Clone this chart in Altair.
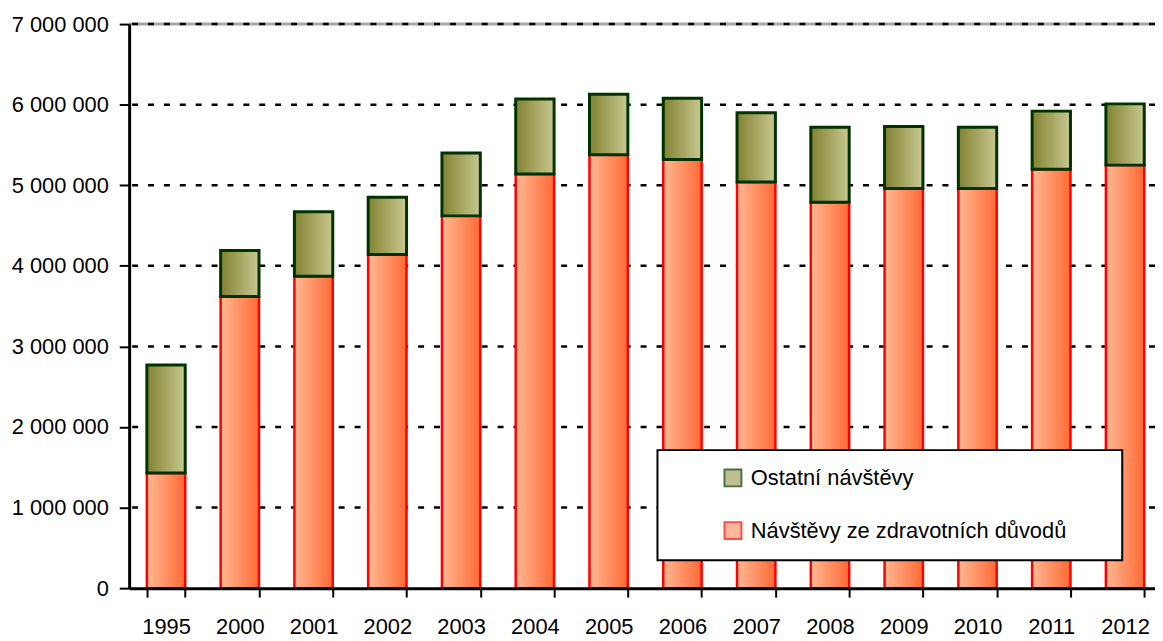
import altair as alt
import pandas as pd

# ---- data ----
years = ["1995", "2000", "2001", "2002", "2003", "2004", "2005",
         "2006", "2007", "2008", "2009", "2010", "2011", "2012"]
health_visits = [1430000, 3620000, 3870000, 4140000, 4620000, 5140000, 5380000,
                 5320000, 5040000, 4790000, 4960000, 4960000, 5200000, 5250000]
other_visits = [1340000, 570000, 800000, 710000, 780000, 930000, 750000,
                760000, 860000, 930000, 770000, 760000, 720000, 760000]
series_names = ["Ostatní návštěvy", "Návštěvy ze zdravotních důvodů"]
y_ticks = [0, 1000000, 2000000, 3000000, 4000000, 5000000, 6000000, 7000000]
grid_values = [1000000, 2000000, 3000000, 4000000, 5000000, 6000000, 7000000]
top_value = [7000000]

FONT = "Liberation Sans, Arial, sans-serif"
FS = 22

df = pd.DataFrame({"year": years, "health": health_visits, "other": other_visits})
grid_df = pd.DataFrame({"v": grid_values})
top_df = pd.DataFrame({"v": top_value})
legend_df = pd.DataFrame({"series": series_names})

x_enc = alt.X(
    "year:O", sort=years,
    scale=alt.Scale(range=[0, 1040], paddingInner=0.48, paddingOuter=0.24),
    axis=alt.Axis(title=None, labelAngle=0, tickBand="extent", tickSize=9, tickWidth=2,
                  tickColor="black", domainColor="black", domainWidth=3,
                  labelPadding=20, labelFontSize=FS, labelFont=FONT, labelColor="black",
                  grid=False, zindex=1),
)
y_scale = alt.Scale(domain=[0, 7000000], nice=False, zero=True)
y_axis = alt.Axis(title=None, values=y_ticks,
                  labelExpr="replace(replace(format(datum.value, ','), ',', ' '), ',', ' ')",
                  tickSize=10, tickWidth=2, tickColor="black", domainColor="black",
                  domainWidth=3, labelPadding=11, labelFontSize=FS, labelFont=FONT,
                  labelColor="black", grid=False, zindex=1)

orange_grad = alt.LinearGradient(
    gradient="linear", x1=0, x2=1, y1=0, y2=0,
    stops=[alt.GradientStop(color="#FFB893", offset=0),
           alt.GradientStop(color="#FF6A35", offset=1)])
olive_grad = alt.LinearGradient(
    gradient="linear", x1=0, x2=1, y1=0, y2=0,
    stops=[alt.GradientStop(color="#828232", offset=0),
           alt.GradientStop(color="#C8C891", offset=1)])

top_line = alt.Chart(top_df).mark_rule(color="#a8a8a8", strokeWidth=3).encode(
    y=alt.Y("v:Q", scale=y_scale, axis=y_axis))
grid = alt.Chart(grid_df).mark_rule(color="black", strokeWidth=2.5, strokeDash=[6, 10]).encode(
    y=alt.Y("v:Q", scale=y_scale))

health_bars = alt.Chart(df).mark_bar(fill=orange_grad, stroke="#FF0000", strokeWidth=2.5).encode(
    x=x_enc,
    y=alt.Y("health:Q", scale=y_scale),
)
other_bars = alt.Chart(df).transform_calculate(
    total="datum.health + datum.other"
).mark_bar(fill=olive_grad, stroke="#003300", strokeWidth=3).encode(
    x=x_enc,
    y=alt.Y("health:Q", scale=y_scale),
    y2="total:Q",
)

leg = alt.Legend(title=".", titleColor="white", titleOrient="right", titlePadding=36,
                 titleFontSize=8, orient="none", legendX=532, legendY=429, direction="vertical",
                 symbolType="square", symbolSize=289, symbolStrokeWidth=2, symbolOffset=48,
                 labelFontSize=FS, labelFont=FONT, labelColor="black", labelOffset=7,
                 rowPadding=27, padding=17, strokeColor="black", fillColor="white",
                 labelLimit=0)
legend_layer = alt.Chart(legend_df).mark_square(size=0, strokeWidth=0).encode(
    fill=alt.Fill("series:N", scale=alt.Scale(domain=series_names, range=["#A5A562", "#FF9C6E"]),
                  legend=leg),
    stroke=alt.Stroke("series:N", scale=alt.Scale(domain=series_names, range=["#003300", "#FF0000"]),
                      legend=leg),
)

chart = alt.layer(top_line, grid, health_bars, other_bars, legend_layer).properties(
    width=1033, height=568,
    autosize=alt.AutoSizeParams(type="none"),
    padding={"left": 122, "top": 14, "right": 0, "bottom": 52},
).configure_view(strokeWidth=0).configure_legend(strokeWidth=2)

chart.save("out.html", embed_options={"renderer": "svg", "actions": False})
